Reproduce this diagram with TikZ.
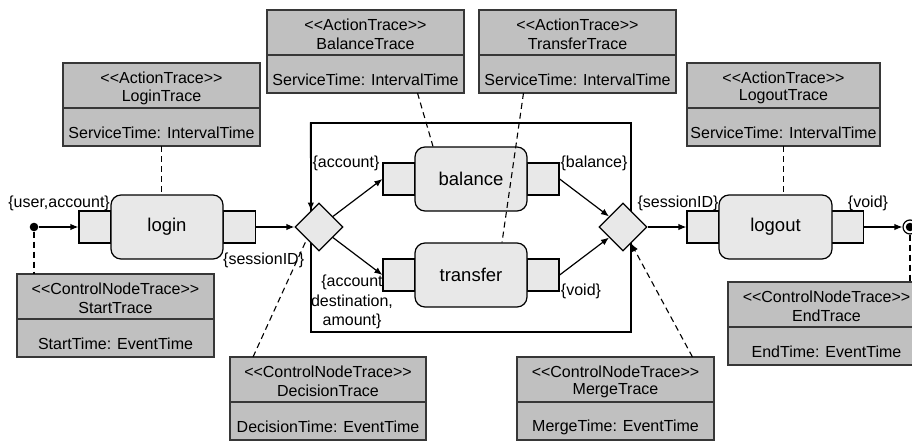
\documentclass[tikz,border=0pt]{standalone}
\usepackage{fontspec}
\setmainfont{Liberation Sans}
\usetikzlibrary{arrows.meta,shapes.geometric,calc}

\definecolor{tracefill}{RGB}{192,192,192}
\definecolor{nodefill}{RGB}{232,232,232}
\definecolor{traceline}{RGB}{55,55,55}

% guillemet-free stereotype brackets
\newcommand{\stlt}{<\kern0pt<}
\newcommand{\stgt}{>\kern0pt>}

\tikzset{
  tracebox/.style={draw=traceline, fill=tracefill, line width=1.2pt, inner sep=0pt,
    outer sep=0pt, anchor=north west, minimum height=83pt},
  tracetxt/.style={inner sep=0pt, font=\fontsize{16}{18}\selectfont},
  action/.style={draw, fill=nodefill, rounded corners=10pt, line width=1.2pt,
    minimum width=112pt, minimum height=64pt, inner sep=0pt,
    font=\fontsize{18.5}{20}\selectfont},
  pinbox/.style={draw, fill=nodefill, line width=1.2pt, minimum width=32pt,
    minimum height=32pt, inner sep=0pt},
  choice/.style={diamond, draw, fill=nodefill, line width=1.2pt, minimum width=48pt,
    minimum height=48pt, inner sep=0pt, aspect=1},
  flow/.style={line width=1.2pt, -{Latex[length=8pt,width=6.5pt]}},
  link/.style={line width=1.1pt, dash pattern=on 6pt off 4pt},
  lbl/.style={inner sep=0pt, font=\fontsize{16}{19.5}\selectfont},
}

% trace class box: name, left, top, width, stereotype, title, attribute
\newcommand{\tracecard}[7]{%
  \node[tracebox, minimum width=#4pt] (#1) at (#2,#3) {};
  \draw[draw=traceline, line width=1.2pt] ([yshift=-45pt]#1.north west) -- ([yshift=-45pt]#1.north east);
  \node[tracetxt] (#1-st) at ([yshift=-15pt]#1.north) {#5};
  \node[tracetxt] (#1-nm) at ([yshift=-34pt]#1.north) {#6};
  \node[tracetxt] (#1-at) at ([yshift=13pt]#1.south) {#7};
}

\begin{document}
\begin{tikzpicture}[x=1pt, y=-1pt]
\useasboundingbox (0,0) rectangle (912,441);

% region around the two parallel actions
\node[draw, line width=1.2pt, minimum width=320pt, minimum height=209pt, inner sep=0pt] (region) at (471,227.5) {};

% trace classes
\tracecard{LoginTrace}{63}{63}{197}{\stlt ActionTrace\stgt}{LoginTrace}{ServiceTime: IntervalTime}
\tracecard{BalanceTrace}{267}{10}{197}{\stlt ActionTrace\stgt}{BalanceTrace}{ServiceTime: IntervalTime}
\tracecard{TransferTrace}{479}{10}{197}{\stlt ActionTrace\stgt}{TransferTrace}{ServiceTime: IntervalTime}
\tracecard{LogoutTrace}{687}{63}{193}{\stlt ActionTrace\stgt}{LogoutTrace}{ServiceTime: IntervalTime}
\tracecard{StartTrace}{17}{274}{197}{\stlt ControlNodeTrace\stgt}{StartTrace}{StartTime: EventTime}
\tracecard{DecisionTrace}{230}{357}{196}{\stlt ControlNodeTrace\stgt}{DecisionTrace}{DecisionTime: EventTime}
\tracecard{MergeTrace}{517}{357}{197}{\stlt ControlNodeTrace\stgt}{MergeTrace}{MergeTime: EventTime}
\tracecard{EndTrace}{728}{282}{197}{\stlt ControlNodeTrace\stgt}{EndTrace}{EndTime: EventTime}

% pins
\node[pinbox] (loginin)  at (95,227) {};
\node[pinbox] (loginout) at (239.5,227) {};
\node[pinbox] (balin)    at (399,179) {};
\node[pinbox] (balout)   at (543,179) {};
\node[pinbox] (trin)     at (399,275) {};
\node[pinbox] (trout)    at (543,275) {};
\node[pinbox] (logoutin)  at (703,227) {};
\node[pinbox] (logoutout) at (847.5,227) {};

% actions
\node[action] (login)    at (167,227) {login};
\node[action] (balance)  at (471,179) {balance};
\node[action] (transfer) at (471,275) {transfer};
\node[action, minimum width=113pt] (logout) at (775.5,227) {logout};

% control nodes
\node[choice] (dec) at (319,227) {};
\node[choice] (mrg) at (623,227) {};
\node[circle, fill, inner sep=0pt, minimum size=8.6pt] (init) at (34,227) {};
\node[circle, draw, fill=white, line width=1.2pt, inner sep=0pt, minimum size=14pt] (final) at (910,227) {};
\node[circle, fill, inner sep=0pt, minimum size=8.5pt] (finaldot) at (final) {};

% control flow
\draw[flow] (init) -- (loginin);
\draw[flow] (loginout) -- (dec);
\draw[flow] (dec) -- (balin.west);
\draw[flow] (dec) -- (trin.west);
\draw[flow] (balout.east) -- (mrg);
\draw[flow] (trout.east) -- (mrg);
\draw[flow] (mrg) -- (logoutin);
\draw[flow] (logoutout) -- (final);
\draw[flow] (region.north west) -- ($(dec.west)!0.67!(dec.north)$);

% trace associations
\draw[link] (LoginTrace.south) -- (LoginTrace.south |- login.north);
\draw[link] (LogoutTrace.south) -- (LogoutTrace.south |- logout.north);
\draw[link] ([xshift=52pt]BalanceTrace.south) -- ([xshift=-38pt]balance.north);
\draw[link] ([xshift=-54pt]TransferTrace.south) -- ([xshift=31pt]transfer.north);
\draw[link] (init) -- (init |- StartTrace.north);
\draw[link] ([xshift=-75pt]DecisionTrace.north) -- (dec.south west);
\draw[link, -{Latex[length=8pt,width=6.5pt]}] ([xshift=77pt]MergeTrace.north) -- ($(mrg.south)!0.33!(mrg.east)$);
\draw[link] (final.south) -- (final.south |- EndTrace.north);

% object flow labels
\node[lbl, anchor=east] (lua) at (110,203) {\{user,account\}};
\node[lbl, anchor=west] (lsid) at (223,260) {\{sessionID\}};
\node[lbl] (lacc) at (346,163) {\{account\}};
\node[lbl] (lbal) at (594,163) {\{balance\}};
\node[lbl] (lvoid) at (581,291) {\{void\}};
\node[lbl, align=center] (ltr) at (352,302) {\{account\\destination,\\amount\}};
\node[lbl] (lsid2) at (678,203) {\{sessionID\}};
\node[lbl] (lvoid2) at (868,203) {\{void\}};
\end{tikzpicture}
\end{document}
